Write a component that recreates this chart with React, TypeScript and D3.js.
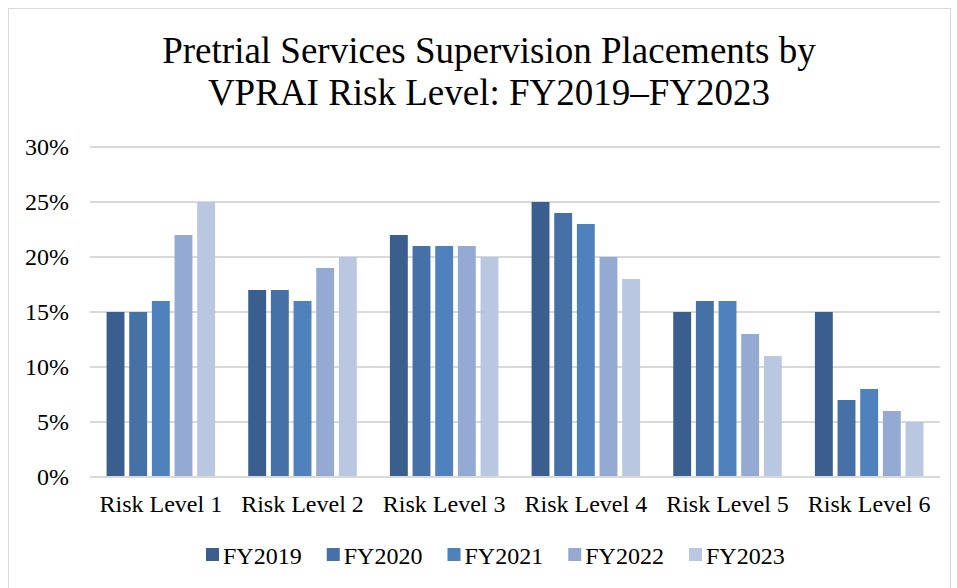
import * as d3 from 'd3';
import React, { useEffect, useRef } from 'react';

const categories = ['Risk Level 1', 'Risk Level 2', 'Risk Level 3', 'Risk Level 4', 'Risk Level 5', 'Risk Level 6'];
const seriesNames = ['FY2019', 'FY2020', 'FY2021', 'FY2022', 'FY2023'];
const fy2019 = [15, 17, 22, 25, 15, 15];
const fy2020 = [15, 17, 21, 24, 16, 7];
const fy2021 = [16, 16, 21, 23, 16, 8];
const fy2022 = [22, 19, 21, 20, 13, 6];
const fy2023 = [25, 20, 20, 18, 11, 5];
const yTicks = [0, 5, 10, 15, 20, 25, 30];
const colors = ['#3a5e8e', '#4571a7', '#4f81bd', '#95aad3', '#bac7e1'];

const series = [fy2019, fy2020, fy2021, fy2022, fy2023];

export default function App() {
  const svgRef = useRef<SVGSVGElement>(null);
  const width = 957;
  const height = 588;

  useEffect(() => {
    const svg = d3.select(svgRef.current);
    svg.selectAll('*').remove();
    const font = '"Liberation Serif", "Times New Roman", serif';

    svg.append('rect')
      .attr('x', 8.5).attr('y', 8.5)
      .attr('width', 942).attr('height', 590)
      .attr('fill', 'white')
      .attr('stroke', '#d9d9d9')
      .attr('stroke-width', 1);

    const left = 90, right = 940, top = 147, bottom = 477;

    const y = d3.scaleLinear().domain([0, 30]).range([bottom, top]);
    const x0 = d3.scaleBand<string>().domain(categories).range([left, right]).padding(0);
    const groupW = x0.bandwidth() * 0.766;
    const x1 = d3.scaleBand<string>().domain(seriesNames).range([0, groupW]).paddingInner(0.21).paddingOuter(0);

    // gridlines
    svg.append('g').selectAll('line').data(yTicks).enter().append('line')
      .attr('x1', left).attr('x2', right)
      .attr('y1', d => y(d)).attr('y2', d => y(d))
      .attr('stroke', '#d9d9d9').attr('stroke-width', 2);

    // y labels
    svg.append('g').selectAll('text').data(yTicks).enter().append('text')
      .attr('x', 69).attr('y', d => y(d) + 8)
      .attr('text-anchor', 'end')
      .style('font-family', font).style('font-size', '24px').style('fill', '#000')
      .text(d => `${d}%`);

    // bars
    categories.forEach((c, ci) => {
      const gx = x0(c)! + (x0.bandwidth() - groupW) / 2;
      seriesNames.forEach((s, si) => {
        const v = series[si][ci];
        svg.append('rect')
          .attr('x', gx + x1(s)!)
          .attr('y', y(v))
          .attr('width', x1.bandwidth())
          .attr('height', y(0) - y(v) - 1)
          .attr('fill', colors[si]);
      });
    });

    // category labels
    svg.append('g').selectAll('text').data(categories).enter().append('text')
      .attr('x', d => x0(d)! + x0.bandwidth() / 2)
      .attr('y', 512)
      .attr('text-anchor', 'middle')
      .style('font-family', font).style('font-size', '24px').style('fill', '#000')
      .text(d => d);

    // title
    const title = svg.append('text')
      .attr('text-anchor', 'middle')
      .style('font-family', font).style('font-size', '37px').style('fill', '#000');
    title.append('tspan').attr('x', 489).attr('y', 63).text('Pretrial Services Supervision Placements by');
    title.append('tspan').attr('x', 489).attr('y', 105).text('VPRAI Risk Level: FY2019\u2013FY2023');

    // legend
    const legendX = d3.scalePoint<string>().domain(seriesNames).range([206, 689]);
    seriesNames.forEach((s, i) => {
      const lx = legendX(s)!;
      svg.append('rect')
        .attr('x', lx).attr('y', 548)
        .attr('width', 13).attr('height', 13)
        .attr('fill', colors[i]);
      svg.append('text')
        .attr('x', lx + 17).attr('y', 564)
        .style('font-family', font).style('font-size', '24px').style('fill', '#000')
        .text(s);
    });
  }, []);

  return (
    <svg ref={svgRef} width={width} height={height} style={{ position: 'absolute', left: 0, top: 0 }} />
  );
}
